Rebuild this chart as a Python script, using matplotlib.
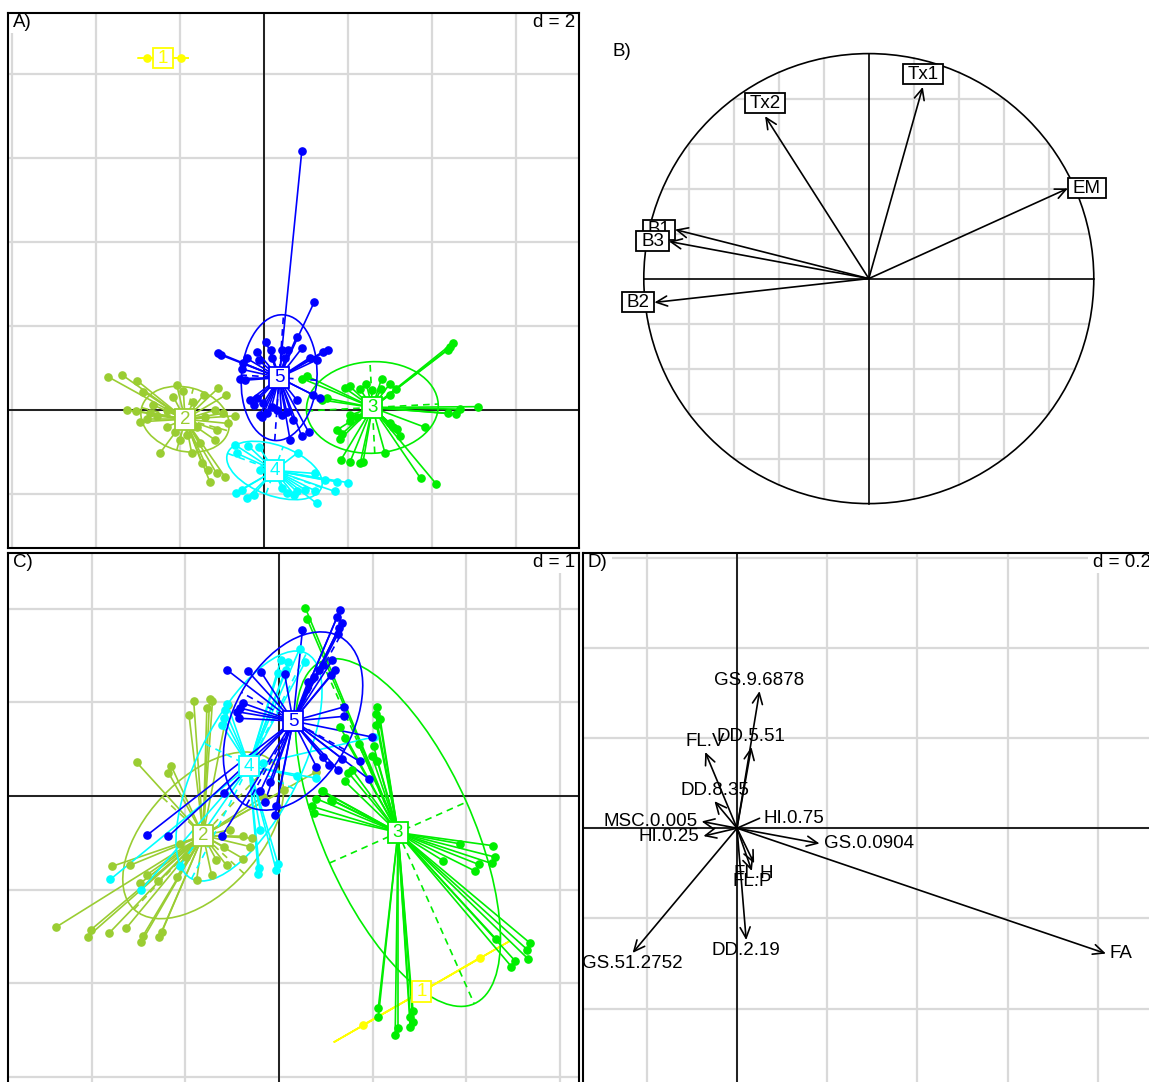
import numpy as np
import matplotlib
matplotlib.use("Agg")
import matplotlib.pyplot as plt
from matplotlib.patches import Ellipse, Circle, FancyArrowPatch
from matplotlib.path import Path

plt.rcParams['font.family'] = ['Liberation Sans', 'DejaVu Sans']

# ---------------------------------------------------------------- data

CLASS_LABELS = ['1', '2', '3', '4', '5']

# A) class scores (d = 2): centres, ellipse half-axes + angle, and points
A_CENTERS = [(-2.40, 8.38), (-1.88, -0.22), (2.58, 0.06), (0.25, -1.44), (0.36, 0.77)]
A_ELLIPSES = [(0.61, 0.0, 0), (1.07, 0.76, -15), (1.57, 1.09, 3), (1.19, 0.60, -20), (1.50, 0.90, 86)]

A_PTS_1 = [(-2.79, 8.38), (-1.98, 8.38)]
A_PTS_2 = [(-3.71, 0.79), (-3.37, 0.83), (-3.02, 0.70), (-2.87, 0.44), (-3.27, 0.00), (-3.05, -0.02),
           (-2.71, -0.06), (-2.95, -0.28), (-2.55, -0.14), (-2.08, 0.60), (-1.92, 0.46), (-1.44, 0.36),
           (-1.09, 0.52), (-0.90, 0.36), (-1.17, 0.00), (-0.97, -0.08), (-0.69, -0.14), (-0.85, -0.32),
           (-1.13, -0.48), (-1.17, -0.71), (-1.52, -0.79), (-2.48, -1.03), (-1.72, -1.03), (-1.48, -1.27),
           (-1.33, -1.43), (-1.13, -1.51), (-0.93, -1.59), (-1.29, -1.71), (-2.16, 0.32), (-2.64, 0.12),
           (-2.79, -0.22), (-2.32, 0.00), (-1.68, 0.20), (-1.60, -0.40), (-1.40, -0.16), (-2.00, -0.71),
           (-1.84, -0.60), (-2.12, -0.52), (-2.32, -0.40)]
A_PTS_3 = [(4.49, 1.59), (4.43, 1.49), (4.39, 1.44), (3.14, 0.49), (3.00, 0.36), (2.80, 0.75),
           (2.78, 0.49), (2.56, 0.48), (2.43, 0.63), (2.29, 0.49), (2.05, 0.56), (1.93, 0.52),
           (1.02, 0.81), (0.90, 0.75), (1.37, 0.24), (1.49, 0.28), (5.10, 0.08), (4.67, 0.02),
           (4.57, -0.10), (4.39, -0.08), (3.83, -0.41), (3.24, -0.63), (3.16, -0.46), (3.00, -0.32),
           (2.88, -1.02), (3.73, -1.63), (4.10, -1.76), (1.73, -0.48), (1.85, -0.57), (1.81, -0.70),
           (2.05, -0.25), (2.05, -0.12), (1.83, -1.19), (2.05, -1.23), (2.29, -1.27), (2.36, -1.23),
           (3.08, -0.40), (2.21, -0.16), (3.00, 0.63)]
A_PTS_4 = [(-0.37, -0.86), (-0.13, -0.87), (0.80, -1.02), (-0.69, -0.83), (-0.65, -1.03), (-0.10, -1.43),
           (1.21, -1.51), (1.45, -1.67), (1.73, -1.71), (2.01, -1.73), (1.69, -1.94), (1.21, -1.92),
           (0.98, -1.90), (0.78, -1.94), (0.72, -2.02), (1.25, -2.22), (-0.67, -1.97), (-0.41, -2.10),
           (-0.25, -2.02), (-0.53, -1.90), (0.42, -1.86), (0.54, -1.98)]
A_PTS_5 = [(0.90, 6.17), (1.20, 2.58), (-1.09, 1.36), (-1.03, 1.31), (-0.53, 0.97), (-0.49, 1.11),
           (-0.17, 1.39), (0.05, 1.63), (0.16, 1.43), (0.44, 1.43), (0.58, 1.43), (0.78, 1.75),
           (0.90, 1.47), (1.10, 1.25), (1.25, 1.19), (1.41, 1.39), (1.53, 1.43), (-0.33, 0.24),
           (-0.17, 0.28), (-0.25, 0.12), (-0.10, -0.12), (-0.05, -0.17), (0.30, 0.00), (0.54, -0.04),
           (0.78, 0.24), (0.62, -0.71), (0.90, -0.63), (1.06, -0.52), (1.17, 0.36), (1.33, 0.28),
           (-0.57, 0.75), (-0.45, 0.71), (0.06, -0.08), (0.42, -0.12), (0.18, 0.08), (0.70, -0.24),
           (-0.41, 1.23), (-0.13, 1.19), (0.18, 1.25), (0.50, 1.23), (-0.02, 0.16)]

# B) correlation circle
B_VARS = ['EM', 'Tx1', 'Tx2', 'B1', 'B2', 'B3']
B_X = [0.885, 0.240, -0.461, -0.861, -0.953, -0.888]
B_Y = [0.401, 0.852, 0.722, 0.218, -0.106, 0.165]

# C) class scores (d = 1)
C_CENTERS = [(1.52, -2.09), (-0.81, -0.42), (1.27, -0.39), (-0.32, 0.32), (0.15, 0.80)]
C_ELLIPSES = [(1.08, 0.0, 29.9), (1.08, 0.60, 47), (2.00, 0.80, -66), (1.35, 0.54, 63), (1.03, 0.63, 61)]

C_PTS_1 = [(2.145, -1.725), (0.893, -2.444)]
C_PTS_2 = [(-0.91, 1.01), (-0.74, 1.04), (-0.71, 1.01), (-0.77, 0.94), (-0.96, 0.86), (-1.52, 0.36),
           (-1.15, 0.32), (-1.18, 0.25), (-0.54, 0.97), (-2.38, -1.40), (-2.01, -1.43), (-2.04, -1.50),
           (-1.81, -1.46), (-1.63, -1.41), (-1.45, -1.49), (-1.47, -1.56), (-1.28, -1.51), (-1.25, -1.45),
           (-1.78, -0.75), (-1.59, -0.74), (-1.41, -0.84), (-1.29, -0.91), (-1.09, -0.86), (-0.88, -0.90),
           (-0.72, -0.84), (-0.56, -0.74), (-0.38, -0.67), (-0.31, -0.54), (-0.29, -0.45), (-0.38, -0.43),
           (-0.52, -0.36), (0.40, 0.26), (0.05, 0.06), (-0.17, -0.01), (-1.48, -0.93), (-0.67, -0.68),
           (-0.59, -0.54), (-1.06, -0.51), (-0.99, -0.65)]
C_PTS_3 = [(0.28, 2.01), (0.30, 1.89), (1.05, 0.95), (1.03, 0.88), (1.08, 0.82), (1.04, 0.76),
           (0.99, 0.43), (1.05, 0.37), (1.01, 0.53), (0.74, 0.25), (0.70, 0.16), (0.78, 0.28),
           (0.65, 0.74), (0.46, 0.05), (0.40, -0.03), (0.35, -0.11), (0.37, -0.18), (0.57, -0.05),
           (2.28, -0.53), (2.30, -0.65), (2.27, -0.72), (2.13, -0.73), (2.09, -0.80), (1.75, -0.69),
           (1.93, -0.51), (2.68, -1.57), (2.65, -1.64), (2.66, -1.74), (2.52, -1.76), (2.48, -1.82),
           (2.32, -1.53), (1.06, -2.26), (1.06, -2.36), (1.27, -2.48), (1.24, -2.55), (1.40, -2.36),
           (1.43, -2.29), (1.43, -2.41), (1.40, -2.47), (0.70, 0.62), (0.85, 0.55), (0.47, 0.05),
           (0.56, -0.04)]
C_PTS_4 = [(0.22, 1.57), (0.28, 1.43), (0.10, 1.43), (0.08, 1.35), (-0.01, 1.31), (-0.58, 0.92),
           (-0.59, 0.83), (-0.61, 0.76), (-1.80, -0.89), (-1.47, -1.00), (-1.06, -0.75), (-0.22, -0.83),
           (-0.21, -0.77), (-0.03, -0.79), (-0.01, -0.73), (-0.20, -0.36), (0.40, 0.19), (1.01, 0.63),
           (0.19, 0.21), (-0.17, 0.35), (-0.55, 0.98), (0.02, 1.45)]
C_PTS_5 = [(-0.56, 1.35), (-0.33, 1.33), (-0.19, 1.32), (0.06, 1.30), (0.25, 1.77), (-0.43, 0.83),
           (-0.42, 0.94), (-0.38, 0.99), (-1.41, -0.42), (-1.18, -0.43), (-0.61, -0.43), (-0.59, 0.03),
           (-0.04, -0.20), (-0.03, -0.11), (-0.15, -0.06), (0.65, 1.98), (0.62, 1.91), (0.67, 1.85),
           (0.64, 1.79), (0.63, 1.73), (0.57, 1.45), (0.47, 1.40), (0.43, 1.35), (0.37, 1.27),
           (0.31, 1.22), (0.56, 1.29), (0.60, 1.35), (0.69, 0.95), (0.69, 0.85), (0.99, 0.63),
           (0.67, 0.40), (0.47, 0.42), (0.53, 0.33), (0.40, 0.31), (0.63, 0.28), (0.86, 0.37),
           (0.96, 0.18), (-0.45, 0.90), (-0.20, 0.05), (-0.10, 0.15)]

# D) modality loadings (d = 0.2)
D_VARS = ['GS.9.6878', 'DD.5.51', 'FL.V', 'DD.8.35', 'MSC.0.005', 'HI.0.25', 'HI.0.75',
          'GS.0.0904', 'FA', 'DD.2.19', 'GS.51.2752', 'FL.H', 'FL.P']
D_X = [0.050, 0.032, -0.0705, -0.050, -0.0785, -0.0745, 0.050, 0.183, 0.818, 0.0204, -0.2315, 0.038, 0.033]
D_Y = [0.304, 0.180, 0.169, 0.060, 0.015, -0.0175, 0.022, -0.034, -0.278, -0.248, -0.2766, -0.078, -0.095]
D_HEADLESS = ['HI.0.75']

# ---------------------------------------------------------------- style

FIG_W, FIG_H = 1149, 1082
FS = 13.5
CLASS_COLORS = ['#FFFF00', '#9ACD32', '#00EE00', '#00FFFF', '#0000FF']
GRID_COLOR = '#d9d9d9'
LW = 1.2


def rect_box(padx, pady):
    """Rectangle box style with separate x / y padding (fractions of font size)."""
    def style(x0, y0, width, height, mutation_size):
        px, py = padx * mutation_size, pady * mutation_size
        xa, ya = x0 - px, y0 - py
        xb, yb = x0 + width + px, y0 + height + py
        return Path([(xa, ya), (xb, ya), (xb, yb), (xa, yb), (xa, ya)], closed=True)
    return style


def add_panel(fig, frame, origin, ppu):
    """Axes placed on a pixel frame, with data origin at a pixel and ppu pixels per unit."""
    x0, y0, x1, y1 = frame
    ax = fig.add_axes([x0 / FIG_W, 1 - y1 / FIG_H, (x1 - x0) / FIG_W, (y1 - y0) / FIG_H])
    ox, oy = origin
    ax.set_xlim((x0 - ox) / ppu, (x1 - ox) / ppu)
    ax.set_ylim((oy - y1) / ppu, (oy - y0) / ppu)
    return ax


def grid_panel(ax, d):
    xmin, xmax = ax.get_xlim()
    ymin, ymax = ax.get_ylim()
    ax.set_xticks(np.arange(np.ceil(xmin / d), np.floor(xmax / d) + 1) * d)
    ax.set_yticks(np.arange(np.ceil(ymin / d), np.floor(ymax / d) + 1) * d)
    ax.set_xlim(xmin, xmax)
    ax.set_ylim(ymin, ymax)
    ax.tick_params(length=0, labelbottom=False, labelleft=False)
    ax.grid(True, color=GRID_COLOR, lw=1.6)
    ax.set_axisbelow(True)
    ax.axhline(0, color='black', lw=1.2, zorder=1.5)
    ax.axvline(0, color='black', lw=1.2, zorder=1.5)
    for s in ax.spines.values():
        s.set_linewidth(1.5)
        s.set_zorder(10)


def corner_labels(ax, left, right):
    box = dict(boxstyle=rect_box(0.25, 0.1), fc='white', ec='none')
    ax.annotate(left, xy=(0, 1), xycoords='axes fraction', xytext=(3.5, -0.7),
                textcoords='offset points', ha='left', va='top', fontsize=FS, bbox=box, zorder=6)
    if right:
        ax.annotate(right, xy=(1, 1), xycoords='axes fraction', xytext=(-3, -0.7),
                    textcoords='offset points', ha='right', va='top', fontsize=FS, bbox=box, zorder=6)


def draw_classes(ax, centers, ellipses, groups):
    for (cx, cy), (a, b, ang), pts, color in zip(centers, ellipses, groups, CLASS_COLORS):
        ax.add_patch(Ellipse((cx, cy), 2 * a, 2 * b, angle=ang, fill=False, ec=color, lw=LW, zorder=2))
        t = np.deg2rad(ang)
        ax.plot([cx - a * np.cos(t), cx + a * np.cos(t)], [cy - a * np.sin(t), cy + a * np.sin(t)],
                color=color, lw=LW, ls=(0, (4, 3)), zorder=2)
        if b > 0:
            ax.plot([cx + b * np.sin(t), cx - b * np.sin(t)], [cy - b * np.cos(t), cy + b * np.cos(t)],
                    color=color, lw=LW, ls=(0, (4, 3)), zorder=2)
        for x, y in pts:
            ax.plot([cx, x], [cy, y], color=color, lw=LW, zorder=2)
        xs, ys = zip(*pts)
        ax.plot(xs, ys, 'o', ms=5.2, color=color, zorder=3)
    for (cx, cy), label, color in zip(centers, CLASS_LABELS, CLASS_COLORS):
        ax.text(cx, cy, label, color=color, ha='center', va='center', fontsize=FS, zorder=5,
                bbox=dict(boxstyle=rect_box(0.25, 0.1), fc='white', ec=color, lw=1.3))


def draw_arrows(ax, names, xs, ys, boxed, gap_h, gap_v, headless=()):
    for name, x, y in zip(names, xs, ys):
        style = '-' if name in headless else '->,head_length=0.65,head_width=0.3'
        ax.add_patch(FancyArrowPatch((0, 0), (x, y), arrowstyle=style, mutation_scale=12,
                                     lw=LW, color='black', shrinkA=0, shrinkB=0, zorder=3))
        if abs(x) >= abs(y):
            ha, va = ('left' if x > 0 else 'right'), 'center'
            off = (gap_h * np.sign(x), 0)
        else:
            ha, va = 'center', ('bottom' if y > 0 else 'top')
            off = (0, gap_v * np.sign(y))
        bbox = dict(boxstyle=rect_box(0.25, 0.08), fc='white', ec='black', lw=1.3) if boxed else None
        ax.annotate(name, xy=(x, y), xytext=off, textcoords='offset points', ha=ha, va=va,
                    fontsize=FS, bbox=bbox, zorder=4)


fig = plt.figure(figsize=(FIG_W / 100, FIG_H / 100), dpi=100)

# A)
ax_a = add_panel(fig, (8, 13, 579, 548), (264, 410), 42)
grid_panel(ax_a, 2)
draw_classes(ax_a, A_CENTERS, A_ELLIPSES, [A_PTS_1, A_PTS_2, A_PTS_3, A_PTS_4, A_PTS_5])
corner_labels(ax_a, 'A)', 'd = 2')

# B)
ax_b = add_panel(fig, (583, 13, 1149, 548), (868.8, 278.6), 225)
ax_b.axis('off')
for v in np.arange(-4, 5) * 0.2:
    if abs(v) < 1e-9:
        continue
    half = np.sqrt(1 - v ** 2)
    ax_b.plot([-half, half], [v, v], color=GRID_COLOR, lw=1.6, zorder=1)
    ax_b.plot([v, v], [-half, half], color=GRID_COLOR, lw=1.6, zorder=1)
ax_b.plot([-1, 1], [0, 0], color='black', lw=1.2, zorder=2)
ax_b.plot([0, 0], [-1, 1], color='black', lw=1.2, zorder=2)
ax_b.add_patch(Circle((0, 0), 1, fill=False, ec='black', lw=1.2, zorder=2))
draw_arrows(ax_b, B_VARS, B_X, B_Y, boxed=True, gap_h=3.6, gap_v=3.0)
fig.text(612 / FIG_W, 1 - 43 / FIG_H, 'B)', ha='left', va='top', fontsize=FS)

# C)
ax_c = add_panel(fig, (8, 553, 579, 1084), (279, 796), 93.7)
grid_panel(ax_c, 1)
draw_classes(ax_c, C_CENTERS, C_ELLIPSES, [C_PTS_1, C_PTS_2, C_PTS_3, C_PTS_4, C_PTS_5])
corner_labels(ax_c, 'C)', 'd = 1')

# D)
ax_d = add_panel(fig, (583, 553, 1155, 1084), (737, 828.2), 451)
grid_panel(ax_d, 0.2)
draw_arrows(ax_d, D_VARS, D_X, D_Y, boxed=False, gap_h=2.9, gap_v=1.4, headless=D_HEADLESS)
corner_labels(ax_d, 'D)', 'd = 0.2')

fig.savefig('out.png', dpi=100)
